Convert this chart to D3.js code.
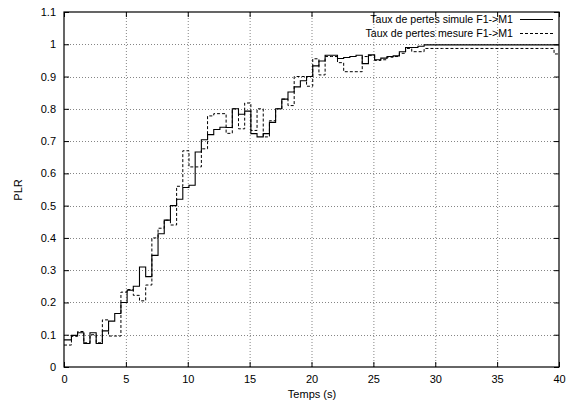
<!DOCTYPE html>
<html>
<head>
<meta charset="utf-8">
<script src="https://cdn.jsdelivr.net/npm/d3@7"></script>
<style>
  html, body { margin: 0; padding: 0; background: #fff; }
  svg { display: block; font-family: "Liberation Sans", Arial, Helvetica, sans-serif; }
</style>
</head>
<body>
<svg id="chart" width="566" height="403"></svg>
<script>
// ---- data ----
const stepTimes = [0, 0.6, 1.1, 1.6, 2.1, 2.6, 3.1, 3.6, 4.1, 4.6, 5.1, 5.6, 6.1, 6.6, 7.1, 7.6, 8.1, 8.6, 9.1, 9.6,
  10.1, 10.6, 11.1, 11.6, 12.1, 12.6, 13.1, 13.6, 14.1, 14.6, 15.1, 15.6, 16.1, 16.6, 17.1, 17.6, 18.1, 18.6, 19.1, 19.6,
  20.1, 20.6, 21.1, 21.6, 22.1, 22.6, 23.1, 23.6, 24.1, 24.6, 25.1, 25.6, 26.1, 26.6, 27.1, 27.6, 28.1, 28.6, 29.1, 29.6,
  30.1, 30.6, 31.1, 31.6, 32.1, 32.6, 33.1, 33.6, 34.1, 34.6, 35.1, 35.6, 36.1, 36.6, 37.1, 37.6, 38.1, 38.6, 39.1, 39.6];
const endTime = 40;

const simule = [0.084, 0.098, 0.106, 0.073, 0.106, 0.073, 0.112, 0.142, 0.166, 0.200, 0.238, 0.250, 0.310, 0.280, 0.346, 0.413, 0.455, 0.500, 0.520, 0.556,
  0.563, 0.666, 0.704, 0.720, 0.736, 0.743, 0.742, 0.800, 0.783, 0.793, 0.723, 0.713, 0.723, 0.758, 0.800, 0.830, 0.852, 0.868, 0.887, 0.900,
  0.933, 0.948, 0.966, 0.966, 0.956, 0.959, 0.962, 0.966, 0.940, 0.967, 0.952, 0.957, 0.962, 0.964, 0.977, 0.990, 0.990, 0.994, 0.998, 0.998,
  0.998, 0.998, 0.998, 0.998, 0.998, 0.998, 0.998, 0.998, 0.998, 0.998, 0.998, 0.998, 0.998, 0.998, 0.998, 0.998, 0.998, 0.998, 0.998, 0.998];

const mesure = [0.068, 0.095, 0.110, 0.075, 0.100, 0.075, 0.146, 0.096, 0.096, 0.232, 0.240, 0.222, 0.205, 0.254, 0.400, 0.430, 0.455, 0.440, 0.560, 0.670,
  0.620, 0.620, 0.676, 0.778, 0.785, 0.785, 0.724, 0.800, 0.738, 0.818, 0.733, 0.800, 0.713, 0.763, 0.800, 0.830, 0.810, 0.900, 0.900, 0.870,
  0.955, 0.905, 0.962, 0.962, 0.943, 0.915, 0.915, 0.915, 0.962, 0.965, 0.950, 0.952, 0.960, 0.962, 0.972, 0.987, 0.977, 0.977, 0.987, 0.987,
  0.987, 0.987, 0.987, 0.987, 0.987, 0.987, 0.987, 0.987, 0.987, 0.987, 0.987, 0.987, 0.987, 0.987, 0.987, 0.987, 0.987, 0.987, 0.987, 0.970];

const seriesNames = ["Taux de pertes simule F1->M1", "Taux de pertes mesure F1->M1"];
const xTicks = [0, 5, 10, 15, 20, 25, 30, 35, 40];
const yTicks = [0, 0.1, 0.2, 0.3, 0.4, 0.5, 0.6, 0.7, 0.8, 0.9, 1, 1.1];
const yTickLabels = ["0", "0.1", "0.2", "0.3", "0.4", "0.5", "0.6", "0.7", "0.8", "0.9", "1", "1.1"];
const xTitle = "Temps (s)";
const yTitle = "PLR";

// ---- layout ----
const svg = d3.select("#chart");
const L = 64, R = 559, T = 12, B = 367;
const x = d3.scaleLinear().domain([0, 40]).range([L, R]);
const y = d3.scaleLinear().domain([0, 1.1]).range([B, T]);
const fs = 11;

// grid
const grid = svg.append("g").attr("stroke", "#000").attr("stroke-width", 0.6)
  .attr("stroke-dasharray", "1,2").attr("opacity", 0.8);
grid.selectAll(".gx").data(xTicks.filter(d => d > 0 && d < 40)).enter().append("line")
  .attr("x1", d => x(d) + 0.5).attr("x2", d => x(d) + 0.5).attr("y1", T).attr("y2", B);
grid.selectAll(".gy").data(yTicks.filter(d => d > 0 && d < 1.1)).enter().append("line")
  .attr("x1", L).attr("x2", R).attr("y1", d => Math.round(y(d)) + 0.5).attr("y2", d => Math.round(y(d)) + 0.5);

// axes
const fmtY = d => yTickLabels[yTicks.indexOf(d)];
const ax = [
  svg.append("g").attr("transform", `translate(${L},0)`).call(d3.axisLeft(y).tickValues(yTicks).tickFormat(fmtY).tickSize(-5).tickPadding(8)),
  svg.append("g").attr("transform", `translate(0,${B})`).call(d3.axisBottom(x).tickValues(xTicks).tickFormat(d3.format("d")).tickSize(-5).tickPadding(8)),
  svg.append("g").attr("transform", `translate(${R},0)`).call(d3.axisRight(y).tickValues(yTicks).tickFormat("").tickSize(-5)),
  svg.append("g").attr("transform", `translate(0,${T})`).call(d3.axisTop(x).tickValues(xTicks).tickFormat("").tickSize(-5))
];
ax.forEach(g => {
  g.select(".domain").remove();
  g.selectAll("text").attr("font-size", fs).attr("font-family", "Liberation Sans, Arial, sans-serif").attr("fill", "#000");
  g.selectAll("line").attr("stroke", "#000");
});

// frame
svg.append("rect").attr("x", L).attr("y", T).attr("width", R - L).attr("height", B - T)
  .attr("fill", "none").attr("stroke", "#000").attr("stroke-width", 1.2);

// series
function pts(vals) {
  const p = stepTimes.map((t, i) => [t, vals[i]]);
  p.push([endTime, vals[vals.length - 1]]);
  return p;
}
const line = d3.line().x(d => x(d[0])).y(d => y(d[1])).curve(d3.curveStepAfter);
svg.append("path").attr("d", line(pts(mesure))).attr("fill", "none").attr("stroke", "#000")
  .attr("stroke-width", 1).attr("stroke-dasharray", "3,2");
svg.append("path").attr("d", line(pts(simule))).attr("fill", "none").attr("stroke", "#000")
  .attr("stroke-width", 1.1);

// legend
const leg = svg.append("g");
const legY = [19, 33];
const dashes = [null, "3,2"];
seriesNames.forEach((n, i) => {
  leg.append("text").attr("x", 513).attr("y", legY[i]).attr("dy", "0.35em").attr("text-anchor", "end")
    .attr("font-size", 10.6).text(n);
  leg.append("line").attr("x1", 520).attr("x2", 553).attr("y1", legY[i] + 0.5).attr("y2", legY[i] + 0.5)
    .attr("stroke", "#000").attr("stroke-width", i === 0 ? 1.1 : 1).attr("stroke-dasharray", dashes[i]);
});

// titles
svg.append("text").attr("x", 312).attr("y", 394).attr("dy", "0.35em").attr("text-anchor", "middle")
  .attr("font-size", fs).text(xTitle);
svg.append("text").attr("transform", "translate(18,190) rotate(-90)").attr("dy", "0.35em")
  .attr("text-anchor", "middle").attr("font-size", fs).text(yTitle);
</script>
</body>
</html>
